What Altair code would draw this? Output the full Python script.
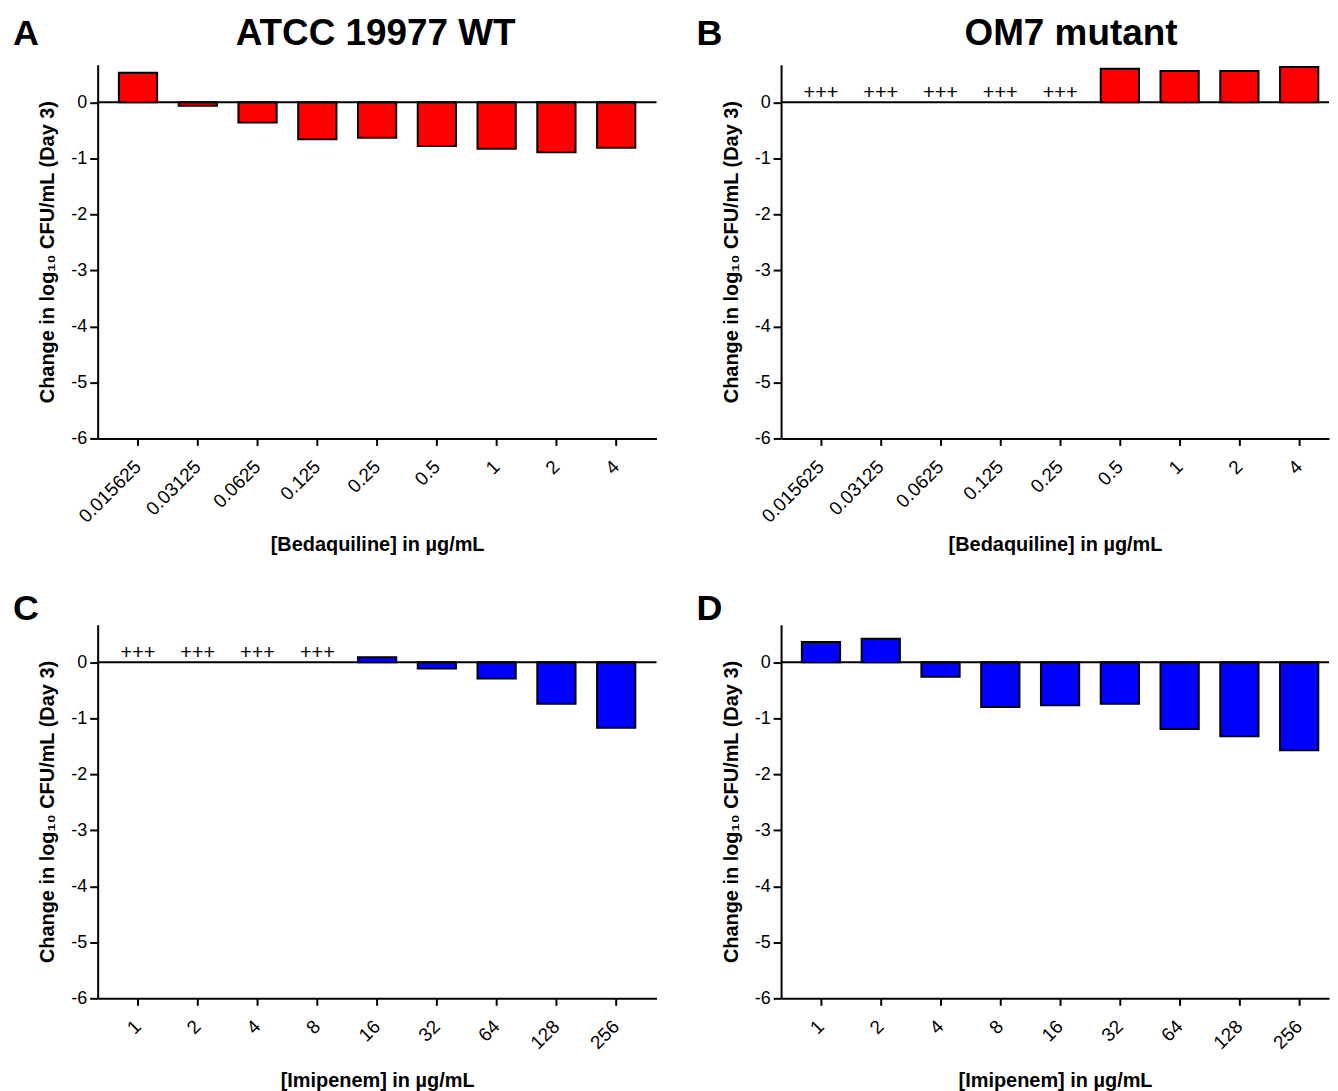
import altair as alt
import pandas as pd

# ---- data ----
bdq_conc = ["0.015625", "0.03125", "0.0625", "0.125", "0.25", "0.5", "1", "2", "4"]
imi_conc = ["1", "2", "4", "8", "16", "32", "64", "128", "256"]
wt_bdq = [0.53, -0.06, -0.36, -0.66, -0.63, -0.78, -0.83, -0.89, -0.81]
om7_bdq = [None, None, None, None, None, 0.60, 0.56, 0.56, 0.63]
wt_imi = [None, None, None, None, 0.09, -0.11, -0.29, -0.74, -1.17]
om7_imi = [0.36, 0.42, -0.26, -0.80, -0.77, -0.74, -1.19, -1.32, -1.57]
growth_mark = "+++"
y_ticks = [-6, -5, -4, -3, -2, -1, 0]

FONT = "Liberation Sans"
H = 375
STEP = 60
PI = 0.36


def panel(conc, values, color, letter, title, title_x, xtitle, ytitle,
          width, align, letter_y, xtitle_pad):
    df = pd.DataFrame({"conc": conc, "value": values})
    df["label"] = [growth_mark if v is None else "" for v in values]
    n = len(conc)
    po = (width / STEP - (n - PI)) / 2
    xenc = alt.X(
        "conc:N", sort=conc,
        scale=alt.Scale(paddingInner=PI, paddingOuter=po, align=align),
        axis=alt.Axis(title=xtitle, labelAngle=-45, labelAlign="right",
                      labelBaseline="middle", labelPadding=18, labelFontSize=19,
                      titlePadding=xtitle_pad, tickSize=7),
    )
    yenc = alt.Y(
        "value:Q",
        scale=alt.Scale(domain=[-6, 0.67], nice=False, zero=False),
        axis=alt.Axis(title=ytitle, values=y_ticks, labelExpr="toString(datum.value)",
                      tickSize=8, labelPadding=3, labelFontSize=18, titlePadding=13),
    )
    base = alt.Chart(df)
    bars = base.transform_filter("isValid(datum.value)").mark_bar(
        color=color, stroke="black", strokeWidth=2
    ).encode(x=xenc, y=yenc, y2=alt.datum(0))
    marks = base.transform_filter("datum.label != ''").mark_text(
        font=FONT, fontSize=20, baseline="alphabetic", dy=-3, color="black"
    ).encode(x=xenc, y=alt.datum(0), text="label:N")
    one = pd.DataFrame({"k": [0]})
    zero = alt.Chart(one).mark_rule(color="black", strokeWidth=2).encode(y=alt.datum(0))
    let = alt.Chart(one).mark_text(
        text=letter, font=FONT, fontSize=36, fontWeight="bold", align="left",
        baseline="alphabetic", color="black"
    ).encode(x=alt.value(-85), y=alt.value(letter_y))
    layers = [bars, marks, zero, let]
    if title:
        ttl = alt.Chart(one).mark_text(
            text=title, font=FONT, fontSize=37, fontWeight="bold", align="center",
            baseline="alphabetic", color="black"
        ).encode(x=alt.value(title_x), y=alt.value(-20))
        layers.append(ttl)
    return alt.layer(*layers).properties(width=width, height=H)


ytitle = "Change in log₁₀ CFU/mL (Day 3)"
A = panel(bdq_conc, wt_bdq, "#FF0000", "A", "ATCC 19977 WT", 279,
          "[Bedaquiline] in µg/mL", ytitle, 561, 0.5, -20, 8)
B = panel(bdq_conc, om7_bdq, "#FF0000", "B", "OM7 mutant", 291,
          "[Bedaquiline] in µg/mL", ytitle, 550, 0.66, -20, 8)
C = panel(imi_conc, wt_imi, "#0000FF", "C", None, 0,
          "[Imipenem] in µg/mL", "Change in log₁₀ CFU/mL  (Day 3)", 561, 0.5, -5, 18)
D = panel(imi_conc, om7_imi, "#0000FF", "D", None, 0,
          "[Imipenem] in µg/mL", ytitle, 550, 0.66, -5, 18)

row1 = alt.hconcat(A, B, spacing=39)
row2 = alt.hconcat(C, D, spacing=39)
chart = alt.vconcat(row1, row2, spacing=36).properties(
    padding={"left": 5, "top": 5, "right": 0, "bottom": 0}
).configure_view(stroke=None).configure_axis(
    grid=False, domainColor="black", domainWidth=2, tickColor="black",
    tickWidth=2, labelColor="black", titleColor="black", labelFont=FONT,
    titleFont=FONT, titleFontSize=20, titleFontWeight="bold"
).configure_text(font=FONT)

chart.save("out.html", embed_options={"renderer": "svg", "actions": False})
